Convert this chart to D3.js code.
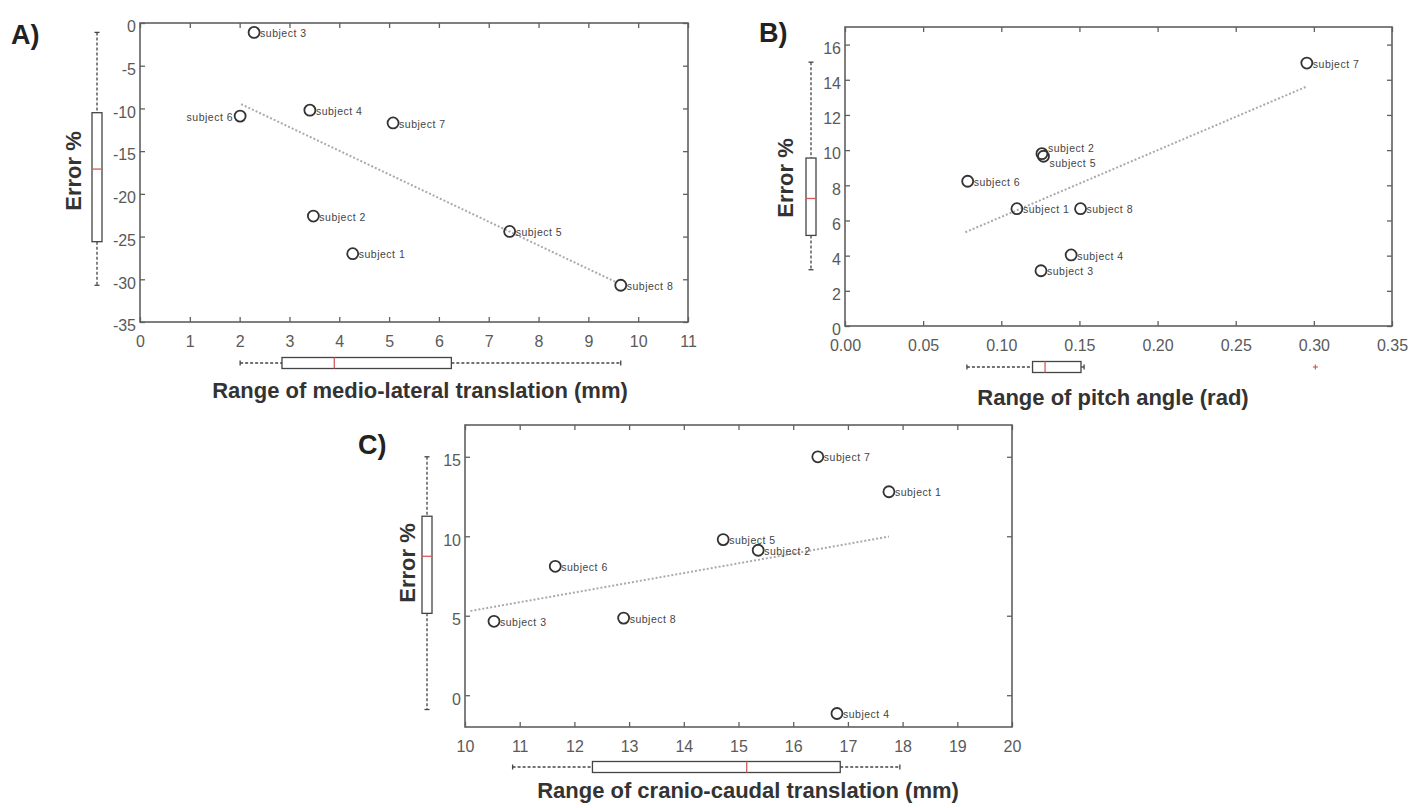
<!DOCTYPE html>
<html>
<head>
<meta charset="utf-8">
<script src="https://cdn.jsdelivr.net/npm/d3@7"></script>
<style>
html, body { margin: 0; padding: 0; background: #fff; }
svg { display: block; font-family: "Liberation Sans", Arial, sans-serif; }
</style>
</head>
<body>
<svg id="fig" width="1416" height="808"></svg>
<script>
// ---- data ----
const subjects = ["subject 1", "subject 2", "subject 3", "subject 4", "subject 5", "subject 6", "subject 7", "subject 8"];

// A) medio-lateral translation (mm) vs error %
const mlRange = [4.27, 3.48, 2.29, 3.41, 7.42, 2.01, 5.08, 9.65];
const mlError = [-27.0, -22.6, -1.1, -10.2, -24.4, -10.9, -11.7, -30.7];
const mlFit = [[2.03, -9.5], [9.58, -30.4]];
const mlRangeBox = [2.01, 2.85, 3.9, 6.25, 9.65];      // min, q1, median, q3, max
const mlErrorBox = [-30.7, -25.6, -17.1, -10.5, -1.1];
const mlXTicks = [0, 1, 2, 3, 4, 5, 6, 7, 8, 9, 10, 11];
const mlYTicks = [-35, -30, -25, -20, -15, -10, -5, 0];

// B) pitch angle (rad) vs error %
const pitchRange = [0.110, 0.126, 0.1254, 0.1447, 0.127, 0.0785, 0.2955, 0.1507];
const pitchError = [6.67, 9.8, 3.14, 4.04, 9.65, 8.23, 14.95, 6.67];
const pitchFit = [[0.077, 5.33], [0.295, 13.6]];
const pitchRangeBox = [0.078, 0.12, 0.128, 0.151, 0.153];
const pitchRangeOutliers = [0.301];
const pitchErrorBox = [3.2, 5.15, 7.25, 9.55, 15.0];
const pitchXTicks = [0, 0.05, 0.10, 0.15, 0.20, 0.25, 0.30, 0.35];
const pitchYTicks = [0, 2, 4, 6, 8, 10, 12, 14, 16];

// C) cranio-caudal translation (mm) vs error %
const ccRange = [17.75, 15.36, 10.53, 16.8, 14.72, 11.65, 16.45, 12.9];
const ccError = [12.8, 9.12, 4.65, -1.15, 9.79, 8.11, 15.0, 4.85];
const ccFit = [[10.1, 5.3], [17.75, 9.98]];
const ccRangeBox = [10.87, 12.33, 15.15, 16.86, 17.95];
const ccErrorBox = [-0.9, 5.15, 8.74, 11.26, 15.0];
const ccXTicks = [10, 11, 12, 13, 14, 15, 16, 17, 18, 19, 20];
const ccYTicks = [0, 5, 10, 15];

// ---- layout ----
const panels = [
  {
    tag: "A)", tagX: 11, tagY: 44,
    xs: mlRange, ys: mlError, fit: mlFit, xBox: mlRangeBox, yBox: mlErrorBox, xOut: [],
    xDomain: [0, 11], yDomain: [-35, 0], xTicks: mlXTicks, yTicks: mlYTicks,
    xFmt: d => String(d), yFmt: d => String(d),
    left: 140, right: 688, top: 23, bottom: 322,
    vBoxX: 97, hBoxY: 363,
    xTitle: "Range of medio-lateral translation (mm)", xTitleX: 420, xTitleY: 390,
    errX: 73, errY: 171,
    leftLabels: ["subject 6"], upLabels: [], downLabels: []
  },
  {
    tag: "B)", tagX: 759, tagY: 42,
    xs: pitchRange, ys: pitchError, fit: pitchFit, xBox: pitchRangeBox, yBox: pitchErrorBox, xOut: pitchRangeOutliers,
    xDomain: [0, 0.35], yDomain: [0, 17], xTicks: pitchXTicks, yTicks: pitchYTicks,
    xFmt: d3.format(".2f"), yFmt: d => String(d),
    left: 845, right: 1392, top: 27, bottom: 326,
    vBoxX: 811, hBoxY: 367,
    xTitle: "Range of pitch angle (rad)", xTitleX: 1113, xTitleY: 397,
    errX: 785, errY: 178,
    leftLabels: [], upLabels: ["subject 2"], downLabels: ["subject 5"]
  },
  {
    tag: "C)", tagX: 358, tagY: 454,
    xs: ccRange, ys: ccError, fit: ccFit, xBox: ccRangeBox, yBox: ccErrorBox, xOut: [],
    xDomain: [10, 20], yDomain: [-2, 17], xTicks: ccXTicks, yTicks: ccYTicks,
    xFmt: d => String(d), yFmt: d => String(d),
    left: 465, right: 1012, top: 425, bottom: 727,
    vBoxX: 427, hBoxY: 767,
    xTitle: "Range of cranio-caudal translation (mm)", xTitleX: 748, xTitleY: 790,
    errX: 407, errY: 563,
    leftLabels: [], upLabels: [], downLabels: []
  }
];

const svg = d3.select("#fig");
svg.append("rect").attr("width", 1416).attr("height", 808).attr("fill", "#fff");

const axisColor = "#606060";
const tickText = "#5a5a5a";
const medianColor = "#d65a5a";
const boxColor = "#444";

function styleAxis(sel) {
  sel.select(".domain").remove();
  sel.selectAll(".tick line").attr("stroke", axisColor).attr("stroke-width", 1.3);
  sel.selectAll(".tick text")
    .attr("fill", tickText)
    .style("font-size", "16px")
    .style("font-family", "'Liberation Sans', Arial, sans-serif");
}

function drawPanel(p) {
  const g = svg.append("g");
  const x = d3.scaleLinear().domain(p.xDomain).range([p.left, p.right]);
  const y = d3.scaleLinear().domain(p.yDomain).range([p.bottom, p.top]);

  // axes: MATLAB style, ticks pointing inwards on all four sides
  g.append("g").attr("transform", `translate(0,${p.bottom})`)
    .call(d3.axisBottom(x).tickValues(p.xTicks).tickSize(-5).tickPadding(14).tickFormat(p.xFmt))
    .call(styleAxis);
  g.append("g").attr("transform", `translate(0,${p.top})`)
    .call(d3.axisTop(x).tickValues(p.xTicks).tickSize(-5).tickFormat(""))
    .call(styleAxis);
  g.append("g").attr("transform", `translate(${p.left},0)`)
    .call(d3.axisLeft(y).tickValues(p.yTicks).tickSize(-5).tickPadding(4).tickFormat(p.yFmt))
    .call(styleAxis)
    .selectAll(".tick text").attr("dy", "0.55em");
  g.append("g").attr("transform", `translate(${p.right},0)`)
    .call(d3.axisRight(y).tickValues(p.yTicks).tickSize(-5).tickFormat(""))
    .call(styleAxis);

  g.append("rect")
    .attr("x", x(p.xDomain[0])).attr("y", y(p.yDomain[1]))
    .attr("width", x(p.xDomain[1]) - x(p.xDomain[0]))
    .attr("height", y(p.yDomain[0]) - y(p.yDomain[1]))
    .attr("fill", "none").attr("stroke", axisColor).attr("stroke-width", 1.6);

  // regression line
  g.append("path")
    .datum(p.fit)
    .attr("d", d3.line().x(d => x(d[0])).y(d => y(d[1])))
    .attr("fill", "none").attr("stroke", "#aaa")
    .attr("stroke-width", 2).attr("stroke-dasharray", "2,2");

  // subjects
  const pts = subjects.map((s, i) => ({ name: s, x: p.xs[i], y: p.ys[i] }));
  g.selectAll("circle.pt").data(pts).enter().append("circle")
    .attr("class", "pt")
    .attr("cx", d => x(d.x)).attr("cy", d => y(d.y)).attr("r", 5.5)
    .attr("fill", "none").attr("stroke", "#333").attr("stroke-width", 1.8);

  g.selectAll("text.lab").data(pts).enter().append("text")
    .attr("class", "lab")
    .attr("x", d => p.leftLabels.includes(d.name) ? x(d.x) - 7 : x(d.x) + 6)
    .attr("y", d => {
      if (p.upLabels.includes(d.name)) return y(d.y) - 5;
      if (p.downLabels.includes(d.name)) return y(d.y) + 7;
      return y(d.y) + 1;
    })
    .attr("dy", "0.35em")
    .attr("text-anchor", d => p.leftLabels.includes(d.name) ? "end" : "start")
    .attr("fill", "#444")
    .style("font-size", "10.5px")
    .style("letter-spacing", "0.5px")
    .text(d => d.name);

  // vertical boxplot of error %
  const b = p.yBox, cx = p.vBoxX, hw = 5;
  const vb = g.append("g");
  vb.append("line").attr("x1", cx).attr("x2", cx).attr("y1", y(b[4])).attr("y2", y(b[3]))
    .attr("stroke", boxColor).attr("stroke-width", 1.3).attr("stroke-dasharray", "3,2");
  vb.append("line").attr("x1", cx).attr("x2", cx).attr("y1", y(b[1])).attr("y2", y(b[0]))
    .attr("stroke", boxColor).attr("stroke-width", 1.3).attr("stroke-dasharray", "3,2");
  [b[0], b[4]].forEach(v => vb.append("line")
    .attr("x1", cx - 2.5).attr("x2", cx + 2.5).attr("y1", y(v)).attr("y2", y(v))
    .attr("stroke", boxColor).attr("stroke-width", 1.3));
  vb.append("rect").attr("x", cx - hw).attr("y", y(b[3])).attr("width", hw * 2)
    .attr("height", y(b[1]) - y(b[3]))
    .attr("fill", "none").attr("stroke", boxColor).attr("stroke-width", 1.3);
  vb.append("line").attr("x1", cx - hw).attr("x2", cx + hw).attr("y1", y(b[2])).attr("y2", y(b[2]))
    .attr("stroke", medianColor).attr("stroke-width", 1.3);

  // horizontal boxplot of the range
  const h = p.xBox, cy = p.hBoxY, hh = 5.5;
  const hb = g.append("g");
  hb.append("line").attr("y1", cy).attr("y2", cy).attr("x1", x(h[0])).attr("x2", x(h[1]))
    .attr("stroke", boxColor).attr("stroke-width", 1.3).attr("stroke-dasharray", "3,2");
  hb.append("line").attr("y1", cy).attr("y2", cy).attr("x1", x(h[3])).attr("x2", x(h[4]))
    .attr("stroke", boxColor).attr("stroke-width", 1.3).attr("stroke-dasharray", "3,2");
  [h[0], h[4]].forEach(v => hb.append("line")
    .attr("y1", cy - 2.5).attr("y2", cy + 2.5).attr("x1", x(v)).attr("x2", x(v))
    .attr("stroke", boxColor).attr("stroke-width", 1.3));
  hb.append("rect").attr("y", cy - hh).attr("x", x(h[1])).attr("height", hh * 2)
    .attr("width", x(h[3]) - x(h[1]))
    .attr("fill", "none").attr("stroke", boxColor).attr("stroke-width", 1.3);
  hb.append("line").attr("y1", cy - hh).attr("y2", cy + hh).attr("x1", x(h[2])).attr("x2", x(h[2]))
    .attr("stroke", medianColor).attr("stroke-width", 1.3);
  p.xOut.forEach(v => {
    hb.append("line").attr("x1", x(v) - 2.5).attr("x2", x(v) + 2.5).attr("y1", cy).attr("y2", cy)
      .attr("stroke", medianColor).attr("stroke-width", 1.2);
    hb.append("line").attr("x1", x(v)).attr("x2", x(v)).attr("y1", cy - 2.5).attr("y2", cy + 2.5)
      .attr("stroke", medianColor).attr("stroke-width", 1.2);
  });

  // titles
  g.append("text")
    .attr("x", p.xTitleX).attr("y", p.xTitleY).attr("dy", "0.35em")
    .attr("text-anchor", "middle").attr("fill", "#333")
    .style("font-size", "22px").style("font-weight", "bold")
    .text(p.xTitle);

  g.append("text")
    .attr("transform", `translate(${p.errX},${p.errY}) rotate(-90)`)
    .attr("dy", "0.35em").attr("text-anchor", "middle").attr("fill", "#333")
    .style("font-size", "22px").style("font-weight", "bold")
    .text("Error %");

  g.append("text")
    .attr("x", p.tagX).attr("y", p.tagY).attr("fill", "#222")
    .style("font-size", "27px").style("font-weight", "bold")
    .text(p.tag);
}

panels.forEach(drawPanel);
</script>
</body>
</html>
